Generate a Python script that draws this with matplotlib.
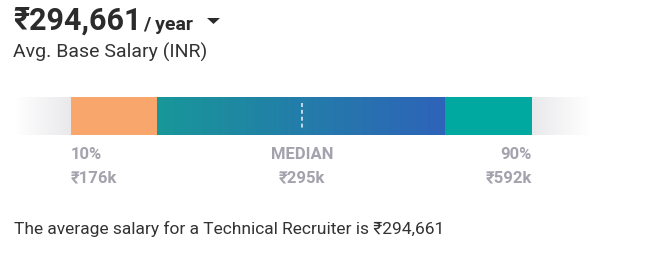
import numpy as np
import matplotlib
matplotlib.use("Agg")
import matplotlib.pyplot as plt
from matplotlib.colors import LinearSegmentedColormap

plt.rcParams['font.family'] = ['Roboto', 'DejaVu Sans']

# DATA
avg_salary = "₹294,661"
period = "/ year"
subtitle = "Avg. Base Salary (INR)"
pct_labels = ["10%", "MEDIAN", "90%"]
pct_values = ["₹176k", "₹295k", "₹592k"]
job_title = "Technical Recruiter"

W, H = 649, 255
fig = plt.figure(figsize=(W / 100, H / 100), dpi=100)
ax = fig.add_axes([0, 0, 1, 1])

# bar layout (pixels)
bar_top, bar_bot = 98, 136
x_fade_l, x_p10, x_lo, x_hi, x_p90, x_fade_r = 15, 71, 157, 445, 532, 590
x_med = 302

def hgrad(x0, x1, c0, c1):
    cmap = LinearSegmentedColormap.from_list('g', [c0, c1])
    ax.imshow(np.linspace(0, 1, 256)[None, :], cmap=cmap, aspect='auto',
              extent=(x0, x1, bar_bot, bar_top), interpolation='bilinear', zorder=1)

hgrad(x_fade_l, x_p10, '#ffffff', '#e9e9ec')
ax.fill_between([x_p10, x_lo], bar_top, bar_bot, color='#f9a66d', lw=0, zorder=2)
hgrad(x_lo, x_hi, '#189799', '#2e63b9')
ax.fill_between([x_hi, x_p90], bar_top, bar_bot, color='#00a9a0', lw=0, zorder=2)
hgrad(x_p90, x_fade_r, '#e9e9ec', '#ffffff')
ax.set_xlim(0, W)
ax.set_ylim(H, 0)
ax.axis('off')

# median marker
ax.plot([x_med, x_med], [104, 129], color='#cfe0ee', lw=1.3,
        linestyle=(0, (2.2, 1.6)), zorder=3)

# header
ax.text(13, 30, avg_salary, fontsize=22, fontweight='bold', color='#2b2b2b',
        ha='left', va='baseline')
ax.text(143, 30, period, fontsize=14, fontweight='bold', color='#2b2b2b',
        ha='left', va='baseline')
ax.fill([207, 220, 213.5], [19, 19, 25], color='#2b2b2b', lw=0)
ax.text(13, 58, subtitle, fontsize=14, color='#333333', ha='left', va='baseline')

# percentile labels
gray = '#a3a2ad'
xs = [x_p10, x_med, x_p90]
has = ['left', 'center', 'right']
for x, ha, lab, val in zip(xs, has, pct_labels, pct_values):
    ax.text(x, 159, lab, fontsize=12, fontweight='bold', color=gray,
            ha=ha, va='baseline')
    ax.text(x, 183, val, fontsize=12, fontweight='bold', color=gray,
            ha=ha, va='baseline')

ax.text(14, 234, f"The average salary for a {job_title} is {avg_salary}",
        fontsize=12.5, color='#333333', ha='left', va='baseline')

fig.savefig('out.png', dpi=100)
